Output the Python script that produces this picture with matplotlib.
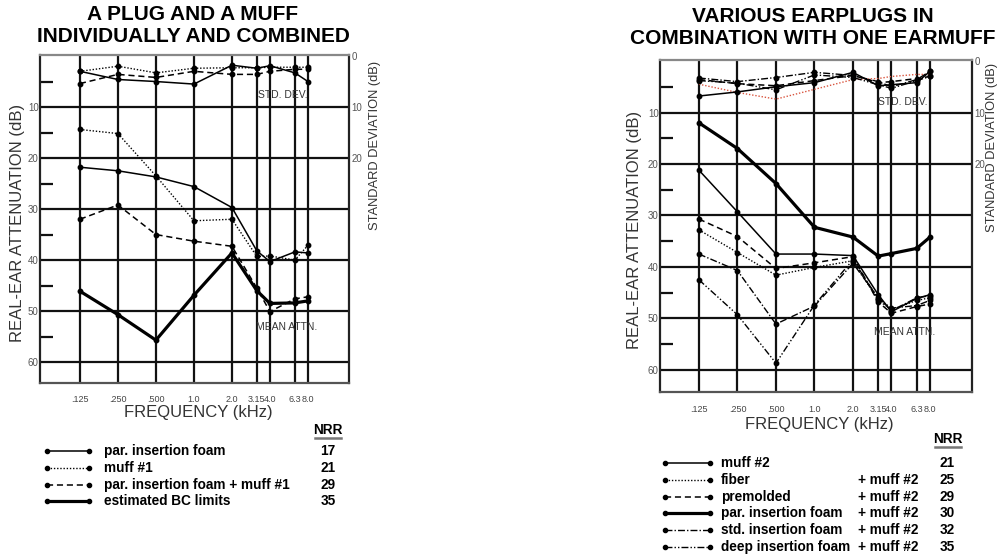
import matplotlib
matplotlib.use("Agg")
import matplotlib.pyplot as plt
from matplotlib.lines import Line2D

plt.rcParams['font.family'] = ['Liberation Sans', 'DejaVu Sans']

W, H = 998, 556

freqs = [0.125, 0.25, 0.5, 1.0, 2.0, 3.15, 4.0, 6.3, 8.0]
freq_labels = ['.125', '.250', '.500', '1.0', '2.0', '3.15', '4.0', '6.3', '8.0']

# ---- left chart: a plug and a muff ----
left_names = ['par. insertion foam', 'muff #1', 'par. insertion foam + muff #1', 'estimated BC limits']
left_nrr = [17, 21, 29, 35]
left_mean_foam = [21.8, 22.5, 23.7, 25.6, 29.7, 38.2, 40.3, 38.4, 38.6]
left_mean_muff1 = [14.4, 15.2, 23.5, 32.3, 32.0, 39.3, 39.2, 40.0, 37.1]
left_mean_combo = [32.0, 29.2, 35.0, 36.3, 37.3, 45.5, 50.1, 47.6, 47.2]
left_mean_bc = [46.1, 50.7, 55.7, 46.9, 38.6, 46.0, 48.5, 48.4, 48.0]
left_sd_foam = [3.0, 4.6, 5.0, 5.5, 1.8, 2.4, 1.9, 3.3, 5.0]
left_sd_muff1 = [3.0, 2.0, 3.3, 2.4, 2.3, 2.3, 2.2, 2.2, 2.2]
left_sd_combo = [5.4, 3.6, 4.2, 3.0, 3.6, 3.6, 3.0, 2.6, 2.6]

# ---- right chart: various earplugs + one earmuff ----
right_names = ['muff #2', 'fiber', 'premolded', 'par. insertion foam',
               'std. insertion foam', 'deep insertion foam']
right_nrr = [21, 25, 29, 30, 32, 35]
right_mean_muff2 = [21.2, 29.3, 37.5, 37.5, 37.8, 45.4, 48.7, 46.1, 45.4]
right_mean_fiber = [32.8, 37.2, 41.6, 40.1, 38.8, 46.5, 48.3, 46.5, 46.0]
right_mean_premolded = [30.7, 34.1, 40.3, 39.2, 38.0, 46.8, 49.0, 47.7, 47.2]
right_mean_parfoam = [12.0, 17.0, 23.8, 32.3, 34.2, 37.9, 37.4, 36.4, 34.2]
right_mean_stdfoam = [37.5, 40.7, 51.1, 47.6, 39.3, 46.0, 48.5, 46.0, 45.6]
right_mean_deepfoam = [42.5, 49.3, 58.7, 47.4, 38.6, 46.2, 48.0, 47.5, 46.5]
right_sd_muff2 = [6.8, 6.0, 5.0, 4.2, 2.2, 4.8, 4.6, 4.2, 2.0]
right_sd_fiber = [4.5, 6.1, 7.4, 5.5, 3.6, 3.4, 3.0, 2.6, 2.6]
right_sd_premolded = [3.6, 4.4, 4.8, 3.8, 2.8, 4.2, 4.0, 3.4, 3.0]
right_sd_stdfoam = [3.3, 4.0, 3.2, 2.2, 2.8, 4.0, 5.0, 3.6, 2.0]
right_sd_deepfoam = [3.8, 4.3, 5.6, 2.7, 3.2, 4.6, 5.3, 3.8, 3.0]

# line styles (linestyle, linewidth)
SOLID = ('-', 1.1)
DOTTED = ((0, (1, 1.3)), 1.0)
DASHED = ((0, (4, 2.5)), 1.1)
THICK = ('-', 2.3)
DASHDOT = ((0, (5, 1.5, 1, 1.5)), 1.0)
DASHDOTDOT = ((0, (5, 1.5, 1, 1.5, 1, 1.5)), 1.0)

TITLE_SIZE = 15
LEG_SIZE = 9.8


def fx(x):
    return x / W


def fy(y):
    return 1 - y / H


def make_axes(left, top, right, bottom, xlim, ylim):
    ax = fig.add_axes([fx(left), fy(bottom), (right - left) / W, (bottom - top) / H])
    ax.set_xscale('log', base=2)
    ax.set_xlim(xlim)
    ax.set_ylim(ylim)
    ax.set_xticks(freqs)
    ax.set_xticklabels(freq_labels, family=['Liberation Sans Narrow', 'Liberation Sans'])
    ax.xaxis.set_minor_locator(plt.NullLocator())
    for f in freqs:
        ax.axvline(f, color='#111111', lw=1.6, zorder=1)
    for y in range(10, 70, 10):
        ax.axhline(y, color='#111111', lw=1.6, zorder=1)
    ax.set_yticks(range(10, 70, 10))
    ax.set_yticks(range(5, 65, 10), minor=True)
    ax.tick_params(axis='y', which='major', length=0, labelsize=7, labelcolor='#555555', pad=1)
    ax.tick_params(axis='y', which='minor', direction='in', length=9, width=1.6,
                   left=True, right=True, color='#111111')
    ax.tick_params(axis='x', length=0, labelsize=6.5, labelcolor='#444444', pad=9)
    for s in ax.spines.values():
        s.set_linewidth(1.6)
        s.set_color('#222222')
    ax.spines['top'].set_color('#888888')
    ax.spines['bottom'].set_color('#555555')
    ax2 = ax.twinx()
    ax2.set_ylim(ylim)
    ax2.set_yticks([0, 10, 20])
    ax2.tick_params(axis='y', length=0, labelsize=7, labelcolor='#555555', pad=2)
    for s in ax2.spines.values():
        s.set_visible(False)
    return ax


def curve(ax, vals, style, color='black'):
    ax.plot(freqs, vals, linestyle=style[0], lw=style[1], color=color,
            marker='o', ms=3.2, zorder=3)


def legend_row(x0, x1, y, style):
    fig.add_artist(Line2D([fx(x0), fx(x1)], [fy(y), fy(y)], linestyle=style[0],
                          lw=style[1], color='black', marker='o', ms=3,
                          transform=fig.transFigure))


def nrr_header(x, y):
    fig.text(fx(x), fy(y), 'NRR', ha='center', va='center', fontsize=LEG_SIZE, weight='bold')
    fig.add_artist(Line2D([fx(x - 13), fx(x + 13)], [fy(y + 8), fy(y + 8)], lw=1.8,
                          color='#777777', transform=fig.transFigure))


fig = plt.figure(figsize=(W / 100, H / 100), dpi=100)

# ================= left chart =================
ax = make_axes(40, 55, 349, 383, (2 ** -4.05, 2 ** 4.08), (64.1, -0.2))
curve(ax, left_mean_foam, SOLID)
curve(ax, left_mean_muff1, DOTTED)
curve(ax, left_mean_combo, DASHED)
curve(ax, left_mean_bc, THICK)
curve(ax, left_sd_foam, SOLID)
curve(ax, left_sd_muff1, DOTTED)
curve(ax, left_sd_combo, DASHED)

fig.text(fx(193), fy(15), 'A PLUG AND A MUFF', ha='center', va='center', fontsize=TITLE_SIZE, weight='bold')
fig.text(fx(193), fy(37), 'INDIVIDUALLY AND COMBINED', ha='center', va='center', fontsize=TITLE_SIZE, weight='bold')
fig.text(fx(18), fy(223), 'REAL-EAR ATTENUATION (dB)', rotation=90, ha='center', va='center',
         fontsize=12, color='#333333')
fig.text(fx(375), fy(145), 'STANDARD DEVIATION (dB)', rotation=90, ha='center', va='center',
         fontsize=9.3, color='#333333')
fig.text(fx(198), fy(413), 'FREQUENCY (kHz)', ha='center', va='center', fontsize=12, color='#333333')
fig.text(fx(283), fy(95), 'STD. DEV.', ha='center', va='center', fontsize=7.5, color='#333333')
fig.text(fx(287), fy(327), 'MEAN ATTN.', ha='center', va='center', fontsize=7.5, color='#333333')

left_styles = [SOLID, DOTTED, DASHED, THICK]
nrr_header(328, 430)
for i, name in enumerate(left_names):
    y = 451 + i * 16.8
    legend_row(47, 89, y, left_styles[i])
    fig.text(fx(104), fy(y), name, ha='left', va='center', fontsize=LEG_SIZE, weight='bold')
    fig.text(fx(328), fy(y), str(left_nrr[i]), ha='center', va='center', fontsize=LEG_SIZE, weight='bold')

# ================= right chart =================
ax = make_axes(660, 60, 972, 392, (2 ** -4.01, 2 ** 4.09), (64.3, -0.2))
curve(ax, right_mean_muff2, SOLID)
curve(ax, right_mean_fiber, DOTTED)
curve(ax, right_mean_premolded, DASHED)
curve(ax, right_mean_parfoam, THICK)
curve(ax, right_mean_stdfoam, DASHDOT)
curve(ax, right_mean_deepfoam, DASHDOTDOT)
curve(ax, right_sd_muff2, SOLID)
ax.plot(freqs, right_sd_fiber, linestyle=(0, (1, 1.3)), lw=1.0, color='#d9553f', zorder=2)
curve(ax, right_sd_premolded, DASHED)
curve(ax, right_sd_stdfoam, DASHDOT)
curve(ax, right_sd_deepfoam, DASHDOTDOT)

fig.text(fx(813), fy(16), 'VARIOUS EARPLUGS IN', ha='center', va='center', fontsize=TITLE_SIZE, weight='bold')
fig.text(fx(813), fy(38), 'COMBINATION WITH ONE EARMUFF', ha='center', va='center', fontsize=TITLE_SIZE, weight='bold')
fig.text(fx(635), fy(230), 'REAL-EAR ATTENUATION (dB)', rotation=90, ha='center', va='center',
         fontsize=12, color='#333333')
fig.text(fx(992), fy(147), 'STANDARD DEVIATION (dB)', rotation=90, ha='center', va='center',
         fontsize=9.3, color='#333333')
fig.text(fx(819), fy(425), 'FREQUENCY (kHz)', ha='center', va='center', fontsize=12, color='#333333')
fig.text(fx(903), fy(102), 'STD. DEV.', ha='center', va='center', fontsize=7.5, color='#333333')
fig.text(fx(905), fy(332), 'MEAN ATTN.', ha='center', va='center', fontsize=7.5, color='#333333')

right_styles = [SOLID, DOTTED, DASHED, THICK, DASHDOT, DASHDOTDOT]
nrr_header(948, 439)
for i, name in enumerate(right_names):
    y = 463 + i * 16.8
    legend_row(665, 710, y, right_styles[i])
    fig.text(fx(721), fy(y), name, ha='left', va='center', fontsize=LEG_SIZE, weight='bold')
    if i > 0:
        fig.text(fx(858), fy(y), '+ muff #2', ha='left', va='center', fontsize=LEG_SIZE, weight='bold')
    fig.text(fx(947), fy(y), str(right_nrr[i]), ha='center', va='center', fontsize=LEG_SIZE, weight='bold')

plt.savefig('out.png', dpi=100)
